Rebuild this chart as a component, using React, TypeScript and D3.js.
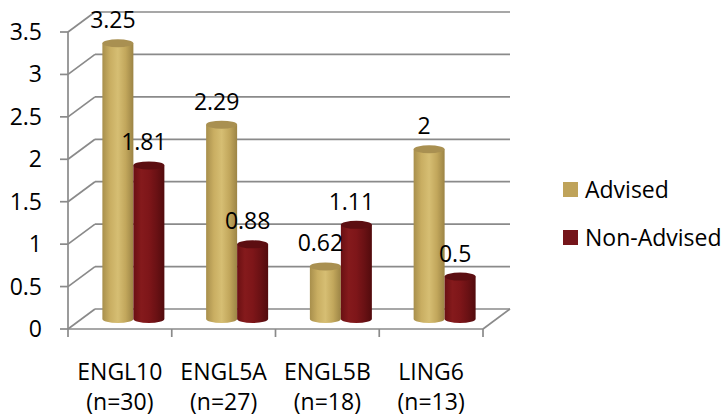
import React from "react";
import * as d3 from "d3";

const categories = ["ENGL10", "ENGL5A", "ENGL5B", "LING6"];
const sampleSizes = ["(n=30)", "(n=27)", "(n=18)", "(n=13)"];
const seriesNames = ["Advised", "Non-Advised"];
const advised = [3.25, 2.29, 0.62, 2];
const nonAdvised = [1.81, 0.88, 1.11, 0.5];
const yTicks = [0, 0.5, 1, 1.5, 2, 2.5, 3, 3.5];

const W = 723;
const H = 417;
const FONT = "'Open Sans', 'Noto Sans', sans-serif";
const FS = 23;

// oblique depth of the 3D box
const DX = 27;
const DY = -20;

const x = d3.scaleBand<string>().domain(categories).range([68, 483]).padding(0);
const y = d3.scaleLinear().domain([0, 3.5]).range([329, 32]);
const series = d3.scaleBand<string>().domain(seriesNames).range([-31, 31]).padding(0);

const palette: Record<string, { stops: string[]; top: string; swatch: string }> = {
  Advised: {
    stops: ["#a88f4c", "#c9ae62", "#d6be73", "#c2a75c", "#9c8445"],
    top: "#a99051",
    swatch: "#bfa35a",
  },
  "Non-Advised": {
    stops: ["#6a1013", "#851a1c", "#7e1619", "#6a1114", "#520b0d"],
    top: "#5c0e11",
    swatch: "#75151a",
  },
};

const RY = 4;

function Cylinder({ cx, v, name }: { cx: number; v: number; name: string }) {
  const rx = series.bandwidth() / 2;
  const yb = y(0) + DY / 2;
  const yt = y(v) + DY / 2;
  const id = name === "Advised" ? "gAdv" : "gNon";
  const d = `M${cx - rx},${yt} L${cx - rx},${yb} A${rx},${RY} 0 0 0 ${cx + rx},${yb} L${cx + rx},${yt} Z`;
  return (
    <g>
      <path d={d} fill={`url(#${id})`} />
      <ellipse cx={cx} cy={yt} rx={rx} ry={RY} fill={palette[name].top} />
    </g>
  );
}

export default function App() {
  const gridColor = "#8a8a8a";
  const x0 = x.range()[0];
  const x1 = x.range()[1];
  const bars: { cat: string; name: string; v: number; i: number }[] = [];
  categories.forEach((c, i) => {
    bars.push({ cat: c, name: "Advised", v: advised[i], i });
    bars.push({ cat: c, name: "Non-Advised", v: nonAdvised[i], i });
  });
  const barCx = (b: { cat: string; name: string }) =>
    (x(b.cat) as number) + x.bandwidth() / 2 + DX / 2 + (series(b.name) as number) + series.bandwidth() / 2;

  return (
    <svg width={W} height={H} style={{ position: "absolute", left: 0, top: 0, background: "#fff" }}>
      <defs>
        {seriesNames.map((n) => (
          <linearGradient key={n} id={n === "Advised" ? "gAdv" : "gNon"} x1="0" x2="1" y1="0" y2="0">
            {palette[n].stops.map((s, k) => (
              <stop key={k} offset={k / (palette[n].stops.length - 1)} stopColor={s} />
            ))}
          </linearGradient>
        ))}
      </defs>

      {/* side and back wall gridlines */}
      {yTicks.map((t) => (
        <g key={t} stroke={gridColor} strokeWidth={1.7} fill="none">
          <line x1={x0} y1={y(t)} x2={x0 + DX} y2={y(t) + DY} />
          <line x1={x0 + DX} y1={y(t) + DY} x2={x1 + DX} y2={y(t) + DY} />
        </g>
      ))}

      {/* floor edges */}
      <g stroke={gridColor} strokeWidth={1.7} fill="none">
        <line x1={x0} y1={y(0)} x2={x1} y2={y(0)} />
        <line x1={x1} y1={y(0)} x2={x1 + DX} y2={y(0) + DY} />
      </g>

      {/* value axis */}
      <g stroke={gridColor} strokeWidth={1.7}>
        <line x1={x0} y1={y(3.5)} x2={x0} y2={y(0)} />
        {yTicks.map((t) => (
          <line key={t} x1={x0 - 8} y1={y(t)} x2={x0} y2={y(t)} />
        ))}
        {[...categories.map((c) => x(c) as number), x1].map((px, k) => (
          <line key={k} x1={px} y1={y(0)} x2={px} y2={y(0) + 8} />
        ))}
      </g>

      {yTicks.map((t) => (
        <text key={t} x={42} y={y(t)} dy="0.35em" textAnchor="end" fontFamily={FONT} fontSize={FS} fill="#000">
          {String(t)}
        </text>
      ))}

      {/* cylinders */}
      {bars.map((b) => (
        <Cylinder key={b.cat + b.name} cx={barCx(b)} v={b.v} name={b.name} />
      ))}

      {/* data labels */}
      {bars.map((b) => (
        <text
          key={"l" + b.cat + b.name}
          x={barCx(b) - 5}
          y={y(b.v) + DY / 2 - 23}
          dy="0.35em"
          textAnchor="middle"
          fontFamily={FONT}
          fontSize={FS}
          fill="#000"
        >
          {String(b.v)}
        </text>
      ))}

      {/* category labels */}
      {categories.map((c, i) => {
        const cx = (x(c) as number) + x.bandwidth() / 2;
        return (
          <g key={c} fontFamily={FONT} fontSize={FS} fill="#000" textAnchor="middle">
            <text x={cx} y={372} dy="0.35em">{c}</text>
            <text x={cx} y={402} dy="0.35em">{sampleSizes[i]}</text>
          </g>
        );
      })}

      {/* legend */}
      {seriesNames.map((n, i) => (
        <g key={n}>
          <rect x={563} y={182 + i * 48} width={15} height={15} fill={palette[n].swatch} />
          <text x={585} y={189.5 + i * 48} dy="0.35em" fontFamily={FONT} fontSize={FS} fill="#000">
            {n}
          </text>
        </g>
      ))}
    </svg>
  );
}
